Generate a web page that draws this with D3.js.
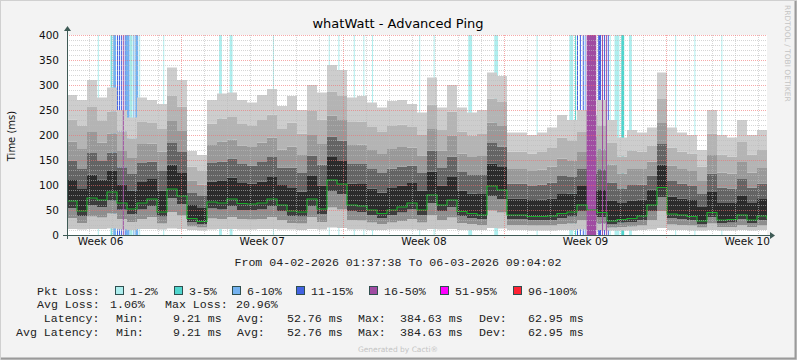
<!DOCTYPE html>
<html>
<head>
<meta charset="utf-8">
<script src="https://cdn.jsdelivr.net/npm/d3@7"></script>
<style>
  body { margin: 0; background: #f3f3f3; }
  svg { display: block; }
</style>
</head>
<body>
<div id="viz"></div>
<script>
// ping samples, ms (one value every ~10.4 h)
const median = [68,48,74,70,86,64,52,64,72,46, 92,78,33,27,66,64,72,63,62,64, 72,60,48,46,72,52,110,102,60,58, 50,43,50,56,64,50,80,60,70,47, 43,40,98,90,40,40,37,37,38,43, 46,60,50,45,28,31,33,38,60,95, 42,40,37,28,45,30,31,40,30,38, 32];
const upper5 = [280,270,310,275,295,250,235,275,270,262, 335,310,168,160,270,283,285,270,265,280, 292,258,278,250,300,285,340,330,275,278, 265,255,268,270,262,245,315,255,300,255, 245,250,325,318,205,205,200,205,215,240, 230,250,240,270,230,195,210,205,215,325, 215,205,200,170,250,200,195,230,200,210, 200];
const upper4 = [231,219,256,228,247,207,193,226,224,212, 279,257,137,129,223,233,236,222,218,230, 241,212,225,203,248,231,287,278,226,227, 216,206,218,221,216,200,261,210,247,207, 199,202,273,266,167,167,163,166,174,195, 188,206,196,218,184,157,169,167,179,272, 175,167,163,137,203,161,157,186,161,170, 161];
const upper3 = [187,172,206,185,203,168,154,182,183,167, 228,208,109,101,180,187,191,179,176,185, 195,171,177,160,200,182,239,230,180,181, 170,162,172,176,175,159,212,169,199,163, 156,158,225,218,132,132,128,131,137,153, 149,166,156,171,141,123,132,132,147,224, 139,132,128,108,160,125,123,146,125,134, 126];
const upper2 = [149,132,164,148,165,135,122,144,147,128, 184,166,84,78,144,147,153,142,139,146, 156,135,135,124,159,141,197,189,142,142, 132,124,133,137,139,124,169,134,157,126, 120,120,184,177,103,103,99,101,105,118, 116,132,122,131,105,93,100,101,119,182, 108,103,99,82,123,95,93,112,95,103, 96];
const upper1 = [110,92,121,111,128,101,89,106,112,89, 141,124,60,54,107,108,115,104,103,107, 116,100,94,87,118,99,156,148,103,102, 93,85,94,99,104,89,127,99,116,89, 83,82,143,136,73,73,70,71,73,82, 83,98,88,90,68,64,68,71,91,141, 77,73,70,56,86,64,64,78,64,72, 66];
const lower1 = [54,38,59,56,69,51,42,51,58,37, 74,62,26,22,53,51,58,50,50,51, 58,48,38,37,58,42,88,82,48,46, 40,34,40,45,51,40,64,48,56,38, 34,32,78,72,32,32,30,30,30,34, 37,48,40,36,22,25,26,30,48,76, 34,32,30,22,36,24,25,32,24,30, 26];
const lower2 = [34,24,37,35,43,32,26,32,36,23, 46,39,17,15,33,32,36,32,31,32, 36,30,24,23,36,26,55,51,30,29, 25,22,25,28,32,25,40,30,35,24, 22,20,49,45,20,20,19,19,19,22, 23,30,25,23,15,16,17,19,30,48, 21,20,19,15,23,16,16,20,16,19, 17];
const lower3 = [12,11,12,12,13,11,10,12,12,11, 13,12,10,9,11,12,12,11,11,12, 12,11,11,10,12,11,15,14,11,11, 10,10,11,11,11,10,12,11,12,10, 10,10,14,13,10,10,9,9,9,10, 10,11,10,10,9,9,9,10,11,14, 10,10,9,9,10,9,9,10,9,10, 9];

// packet loss events: hours after start, duration in hours, loss class
const lossHour = [32,45,46,48,52,54,56,58,60,61, 66,68,69,71,75,100,158,169,214,272, 282,298,308,317,366,381,417,444,488,522, 528,530,533,536,538,540,552,556,558,560, 562,564,569,576,584,632,652,680];
const lossLen = [1,1,1,3,1,1,1,1,1,4, 1,1,1,3,1,1,3,3,1,1, 1,1,1,1,1,1,4,4,1,4, 1,1,1,1,1,10,3,1,1,1, 1,1,5,3,3,1,1,1];
const lossClass = [0,0,1,2,3,3,3,4,3,2, 1,0,2,2,0,0,0,0,0,0, 0,0,0,0,0,0,0,0,0,0, 1,3,3,3,2,4,3,4,3,4, 3,0,0,1,0,0,0,0];

const lossLabels = ['1-2%', '3-5%', '6-10%', '11-15%', '16-50%', '51-95%', '96-100%'];
const lossColors = ['#aeeeee', '#4fd5cd', '#74b2f0', '#4262e2', '#a04ca2', '#ff00ff', '#ff2233'];

const statNames = ['Min:', 'Avg:', 'Max:', 'Dev:'];
const statValues = ['9.21 ms', '52.76 ms', '384.63 ms', '62.95 ms'];
const avgLoss = '1.06%';
const maxLoss = '20.96%';

const startTime = new Date(Date.UTC(2026, 1, 4, 1, 37, 38));
const endTime = new Date(Date.UTC(2026, 2, 6, 9, 4, 2));

const width = 797, height = 360;
const plot = { left: 67, right: 767, top: 35, bottom: 235 };

const svg = d3.select('#viz').append('svg')
	.attr('width', width)
	.attr('height', height);

svg.append('rect')
	.attr('x', 0).attr('y', 0).attr('width', width).attr('height', height)
	.attr('fill', '#f3f3f3');
svg.append('rect')
	.attr('x', 0.5).attr('y', 0.5).attr('width', width - 1).attr('height', height - 1)
	.attr('fill', 'none').attr('stroke', '#d0d0d0');
svg.append('path')
	.attr('d', `M${width - 1.5},1V${height - 1.5}H1`)
	.attr('fill', 'none').attr('stroke', '#9a9a9a').attr('stroke-width', 2);

const xScale = d3.scaleUtc()
	.domain([startTime, endTime])
	.range([plot.left, plot.right]);

const yScale = d3.scaleLinear()
	.domain([0, 400])
	.range([plot.bottom, plot.top]);

const step = (endTime - startTime) / (median.length - 1);
const times = median.map((d, i) => new Date(+startTime + i * step));

svg.append('defs').append('clipPath').attr('id', 'clip')
	.append('rect')
	.attr('x', plot.left).attr('y', plot.top)
	.attr('width', plot.right - plot.left).attr('height', plot.bottom - plot.top);

const g = svg.append('g').attr('clip-path', 'url(#clip)');

g.append('rect')
	.attr('x', plot.left).attr('y', plot.top)
	.attr('width', plot.right - plot.left).attr('height', plot.bottom - plot.top)
	.attr('fill', '#ffffff');

// loss bars behind the smoke (except heavy loss)
const hour = 3600 * 1000;
const lossBars = lossHour.map((h, i) => ({
	t0: new Date(+startTime + h * hour),
	t1: new Date(+startTime + (h + lossLen[i]) * hour),
	cls: lossClass[i]
}));

const drawLoss = (sel, data) => sel.selectAll(null)
	.data(data)
	.enter()
	.append('rect')
	.attr('x', (d) => xScale(d.t0))
	.attr('width', (d) => Math.max(1, xScale(d.t1) - xScale(d.t0)))
	.attr('y', yScale(400))
	.attr('height', yScale(0) - yScale(400))
	.attr('fill', (d) => lossColors[d.cls]);

drawLoss(g.append('g'), lossBars.filter((d) => d.cls < 4));

// smoke bands
const series = [lower3, lower2, lower1, median, upper1, upper2, upper3, upper4, upper5];
const bandColors = ['#c6c6c6', '#8e8e8e', '#3c3c3c', '#2b2b2b', '#646464', '#999999', '#b4b4b4', '#cdcdcd'];

const band = d3.area()
	.x((d) => xScale(d.t))
	.y0((d) => yScale(d.lo))
	.y1((d) => yScale(d.hi))
	.curve(d3.curveStepAfter);

bandColors.forEach((color, k) => {
	const lo = series[k], hi = series[k + 1];
	g.append('path')
		.datum(times.map((t, i) => ({ t: t, lo: lo[i], hi: hi[i] })))
		.attr('fill', color)
		.attr('d', band);
});

drawLoss(g.append('g'), lossBars.filter((d) => d.cls >= 4));

// median line
const line = d3.line()
	.x((d, i) => xScale(times[i]))
	.y((d) => yScale(d))
	.curve(d3.curveStepAfter);

g.append('path')
	.datum(median)
	.attr('fill', 'none')
	.attr('stroke', '#1aaa2a')
	.attr('stroke-width', 1.2)
	.attr('d', line);

// grid on top
const grid = svg.append('g').attr('shape-rendering', 'crispEdges');
const minorY = d3.range(10, 400, 10).filter((v) => v % 50 !== 0);
const majorY = yScale.ticks(8).filter((v) => v > 0);
const days = d3.utcDay.range(d3.utcDay.ceil(startTime), endTime);
const mondays = d3.utcMonday.range(d3.utcMonday.ceil(startTime), endTime);

grid.selectAll('.hmin').data(minorY).enter().append('line')
	.attr('x1', plot.left).attr('x2', plot.right)
	.attr('y1', (d) => Math.round(yScale(d)) + 0.5).attr('y2', (d) => Math.round(yScale(d)) + 0.5)
	.attr('stroke', '#bbbbbb').attr('stroke-opacity', 0.6).attr('stroke-dasharray', '1,1');
grid.selectAll('.vmin').data(days.filter((d) => d.getUTCDay() !== 1)).enter().append('line')
	.attr('y1', plot.top).attr('y2', plot.bottom)
	.attr('x1', (d) => Math.round(xScale(d)) + 0.5).attr('x2', (d) => Math.round(xScale(d)) + 0.5)
	.attr('stroke', '#bbbbbb').attr('stroke-opacity', 0.6).attr('stroke-dasharray', '1,1');
grid.selectAll('.hmaj').data(majorY).enter().append('line')
	.attr('x1', plot.left).attr('x2', plot.right)
	.attr('y1', (d) => Math.round(yScale(d)) + 0.5).attr('y2', (d) => Math.round(yScale(d)) + 0.5)
	.attr('stroke', '#f07070').attr('stroke-opacity', 0.6).attr('stroke-dasharray', '1,1');
grid.selectAll('.vmaj').data(mondays).enter().append('line')
	.attr('y1', plot.top).attr('y2', plot.bottom + 3)
	.attr('x1', (d) => Math.round(xScale(d)) + 0.5).attr('x2', (d) => Math.round(xScale(d)) + 0.5)
	.attr('stroke', '#f07070').attr('stroke-opacity', 0.6).attr('stroke-dasharray', '1,1');

// axes
const axisColor = '#3e5a55';
grid.append('line')
	.attr('x1', plot.left - 4).attr('x2', plot.right + 3)
	.attr('y1', plot.bottom + 0.5).attr('y2', plot.bottom + 0.5)
	.attr('stroke', axisColor);
grid.append('line')
	.attr('x1', plot.left + 0.5).attr('x2', plot.left + 0.5)
	.attr('y1', plot.bottom + 4).attr('y2', plot.top - 5)
	.attr('stroke', axisColor);
svg.append('path')
	.attr('d', `M${plot.right + 8},${plot.bottom + 0.5}l-5,-3.5v7z`)
	.attr('fill', axisColor);
svg.append('path')
	.attr('d', `M${plot.left + 0.5},${plot.top - 9}l-3.5,5h7z`)
	.attr('fill', axisColor);

svg.append('g')
	.attr('transform', `translate(${plot.left},0)`)
	.call(d3.axisLeft(yScale).tickValues(yScale.ticks(8)).tickSize(0).tickPadding(8))
	.call((a) => a.select('.domain').remove())
	.selectAll('text')
	.attr('font-family', 'DejaVu Sans')
	.attr('font-size', 10.5)
	.attr('fill', '#111');

const weekMid = d3.utcMonday.range(d3.utcMonday.floor(startTime), endTime)
	.map((d) => d3.utcHour.offset(d, 84));

svg.append('g')
	.attr('transform', `translate(0,${plot.bottom})`)
	.call(d3.axisBottom(xScale).tickValues(weekMid).tickSize(0).tickPadding(3)
		.tickFormat(d3.utcFormat('Week %V')))
	.call((a) => a.select('.domain').remove())
	.selectAll('text')
	.attr('font-family', 'DejaVu Sans')
	.attr('font-size', 10.5)
	.attr('fill', '#111');

// title and labels
svg.append('text')
	.attr('x', 398).attr('y', 28)
	.attr('text-anchor', 'middle')
	.attr('font-family', 'DejaVu Sans').attr('font-size', 13)
	.attr('fill', '#000')
	.text('whatWatt - Advanced Ping');

svg.append('text')
	.attr('transform', 'translate(15,136) rotate(-90)')
	.attr('text-anchor', 'middle')
	.attr('font-family', 'DejaVu Sans').attr('font-size', 10)
	.attr('fill', '#111')
	.text('Time (ms)');

svg.append('text')
	.attr('transform', 'translate(785,5) rotate(90)')
	.attr('font-family', 'DejaVu Sans').attr('font-size', 7.5)
	.attr('fill', '#c4c4c4')
	.text('RRDTOOL / TOBI OETIKER');

svg.append('text')
	.attr('x', 398).attr('y', 352)
	.attr('text-anchor', 'middle')
	.attr('font-family', 'DejaVu Sans').attr('font-size', 7.5)
	.attr('fill', '#c4c4c4')
	.text('Generated by Cacti®');

// legend
const mono = (x, y, txt, anchor) => svg.append('text')
	.attr('x', x).attr('y', y)
	.attr('text-anchor', anchor || 'start')
	.attr('font-family', 'Liberation Mono').attr('font-size', 11.6)
	.attr('fill', '#222')
	.attr('xml:space', 'preserve')
	.text(txt);

const fmt = d3.utcFormat('%d-%m-%Y %H:%M:%S');
mono(398, 266, 'From ' + fmt(startTime) + ' To ' + fmt(endTime), 'middle');

mono(37, 295, 'Pkt Loss:');
const swatchX = [115, 174, 232, 296, 369, 440, 513];
lossLabels.forEach((lab, i) => {
	svg.append('rect')
		.attr('x', swatchX[i] + 0.5).attr('y', 286.5)
		.attr('width', 8).attr('height', 8)
		.attr('fill', lossColors[i])
		.attr('stroke', '#2f4f4f');
	mono(swatchX[i] + 15, 295, lab);
});

mono(37, 308, 'Avg Loss:');
mono(110, 308, avgLoss);
mono(165, 308, 'Max Loss:');
mono(236, 308, maxLoss);

const nameX = [116, 237, 358, 479];
const valueX = [173, 287, 400, 528];
[['    Latency:', 322], ['Avg Latency:', 336]].forEach(([label, y]) => {
	mono(16, y, label);
	statNames.forEach((n, i) => {
		mono(nameX[i], y, n);
		mono(valueX[i], y, statValues[i]);
	});
});
</script>
</body>
</html>
